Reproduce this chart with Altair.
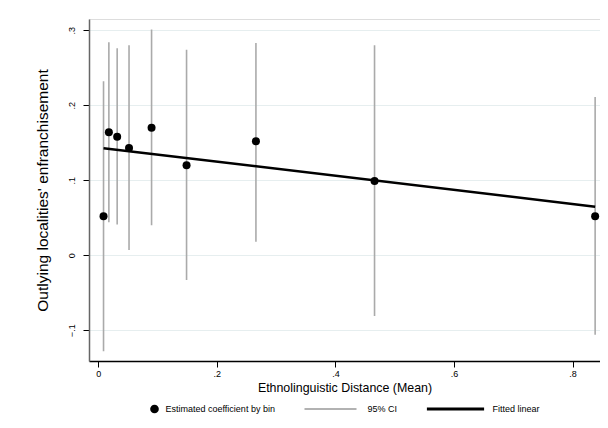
import altair as alt
import pandas as pd

# ---- data ----
bin_x = [0.009, 0.018, 0.032, 0.052, 0.090, 0.149, 0.266, 0.466, 0.838]
coef = [0.052, 0.164, 0.158, 0.143, 0.170, 0.120, 0.152, 0.099, 0.052]
ci_lo = [-0.128, 0.044, 0.041, 0.007, 0.040, -0.033, 0.018, -0.081, -0.106]
ci_hi = [0.232, 0.284, 0.276, 0.280, 0.301, 0.274, 0.283, 0.280, 0.211]
fit_x = [0.009, 0.838]
fit_y = [0.1427, 0.0648]
x_ticks = [0, 0.2, 0.4, 0.6, 0.8]
y_ticks = [-0.1, 0, 0.1, 0.2, 0.3]
legend_labels = ["Estimated coefficient by bin", "95% CI", "Fitted linear"]

FONT = "Liberation Sans"

bins = pd.DataFrame({"x": bin_x, "coef": coef, "lo": ci_lo, "hi": ci_hi})
fit = pd.DataFrame({"x": fit_x, "y": fit_y})
leg = pd.DataFrame({"series": legend_labels})

label_expr = "datum.value == 0 ? '0' : replace(format(datum.value, '.1f'), '0.', '.')"

xscale = alt.Scale(domain=[-0.0155, 0.8462], nice=False, zero=False)
yscale = alt.Scale(domain=[-0.141, 0.315], nice=False, zero=False)

xaxis = alt.Axis(values=x_ticks, labelExpr=label_expr, title="Ethnolinguistic Distance (Mean)",
                 grid=False, domainColor="black", domainWidth=1.3, tickColor="black",
                 tickSize=6, labelFontSize=9, labelPadding=2, titleFontSize=12.4,
                 titlePadding=3, labelFont=FONT, titleFont=FONT, titleFontWeight="normal")
yaxis = alt.Axis(values=y_ticks, labelExpr=label_expr, title="Outlying localities' enfranchisement",
                 grid=True, gridColor="#e6eeef", gridWidth=1, domainColor="#666666",
                 domainWidth=1.5, tickColor="black", tickSize=6, labelFontSize=9,
                 labelAngle=270, labelAlign="center", labelBaseline="bottom", labelPadding=7,
                 titleFontSize=15.5, titlePadding=17, labelFont=FONT, titleFont=FONT,
                 titleFontWeight="normal")

x = alt.X("x:Q", scale=xscale, axis=xaxis)

ci = alt.Chart(bins).mark_rule(color="#aaaaaa", strokeWidth=1.6).encode(
    x=x, y=alt.Y("lo:Q", scale=yscale, axis=yaxis), y2="hi:Q")

line = alt.Chart(fit).mark_line(color="black", strokeWidth=2.5).encode(
    x=alt.X("x:Q", scale=xscale), y=alt.Y("y:Q", scale=yscale))

pts = alt.Chart(bins).mark_point(filled=True, color="black", size=64, opacity=1).encode(
    x=alt.X("x:Q", scale=xscale), y=alt.Y("coef:Q", scale=yscale))

dot_path = "M0.833,0A0.167,0.167,0,1,1,1.167,0A0.167,0.167,0,1,1,0.833,0Z"
thin_path = "M-1,-0.025H1V0.025H-1Z"
thick_path = "M-1.1,-0.055H1.1V0.055H-1.1Z"

legend_def = dict(orient="none", legendX=13.5, legendY=364, direction="horizontal",
                  columns=3, title=None, labelFontSize=9, labelFont=FONT, labelColor="black",
                  symbolSize=2704, symbolStrokeWidth=0, labelOffset=11, columnPadding=29,
                  padding=0, symbolOpacity=1)

dummy = alt.Chart(leg).mark_point(filled=True, size=2704).encode(
    shape=alt.Shape("series:N", scale=alt.Scale(domain=legend_labels,
                                                range=[dot_path, thin_path, thick_path]),
                    legend=alt.Legend(**legend_def)),
    color=alt.Color("series:N", scale=alt.Scale(domain=legend_labels,
                                                range=["black", "#999999", "black"]),
                    legend=alt.Legend(**legend_def)),
).transform_filter("false")

chart = alt.layer(ci, line, pts, dummy).properties(
    width=511, height=342,
    autosize=alt.AutoSizeParams(type="none"),
    padding={"left": 81, "top": 11, "right": 0, "bottom": 59},
).configure_view(stroke=None).configure_axis(
    labelColor="black", titleColor="black"
).configure(background="white")

chart.save("out.html", embed_options={"renderer": "svg", "actions": False})
